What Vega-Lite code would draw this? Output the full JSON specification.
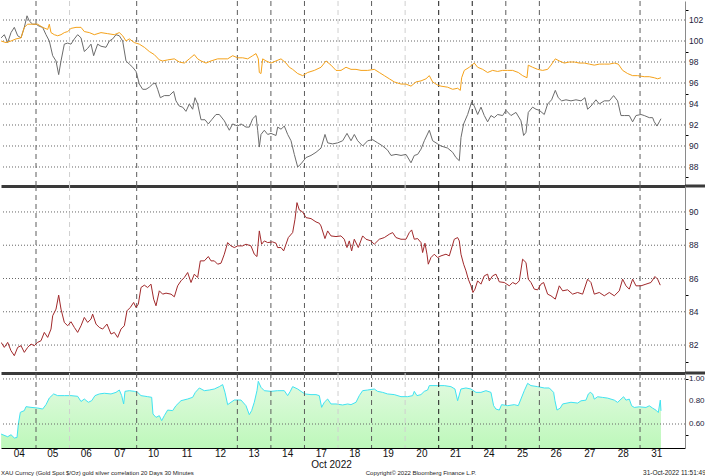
{
  "$schema": "https://vega.github.io/schema/vega-lite/v6.json",
  "background": "white",
  "padding": 0,
  "spacing": 0,
  "bounds": "flush",
  "config": {
    "view": {"stroke": null},
    "font": "Liberation Sans Narrow, Liberation Sans, sans-serif",
    "concat": {"spacing": 0},
    "axisY": {
      "orient": "right", "title": null, "grid": false, "labels": false,
      "tickColor": "#000000", "tickSize": 3,
      "domainColor": "#8a8a8a"
    },
    "text": {"font": "Liberation Sans Narrow, Liberation Sans, sans-serif"}
  },
  "resolve": {"scale": {"x": "independent", "y": "independent"}},
  "datasets": {
    "days": [
      {"t": 1, "shade": "normal"}, {"t": 2, "shade": "faint"}, {"t": 4, "shade": "normal"},
      {"t": 7, "shade": "normal"}, {"t": 8, "shade": "normal"}, {"t": 9, "shade": "normal"},
      {"t": 10, "shade": "faint"}, {"t": 11, "shade": "normal"}, {"t": 12, "shade": "faint"},
      {"t": 13, "shade": "strong"}, {"t": 14, "shade": "strong"}, {"t": 15, "shade": "normal"},
      {"t": 16, "shade": "normal"}, {"t": 19, "shade": "normal"}
    ],
    "daylabels": [
      {"t": 0.5, "lab": "04"}, {"t": 1.5, "lab": "05"}, {"t": 2.5, "lab": "06"}, {"t": 3.5, "lab": "07"},
      {"t": 4.5, "lab": "10"}, {"t": 5.5, "lab": "11"}, {"t": 6.5, "lab": "12"}, {"t": 7.5, "lab": "13"},
      {"t": 8.5, "lab": "14"}, {"t": 9.5, "lab": "17"}, {"t": 10.5, "lab": "18"}, {"t": 11.5, "lab": "19"},
      {"t": 12.5, "lab": "20"}, {"t": 13.5, "lab": "21"}, {"t": 14.5, "lab": "24"}, {"t": 15.5, "lab": "25"},
      {"t": 16.5, "lab": "26"}, {"t": 17.5, "lab": "27"}, {"t": 18.5, "lab": "28"}, {"t": 19.5, "lab": "31"}
    ],
    "grid1": [{"v": 88}, {"v": 90}, {"v": 92}, {"v": 94}, {"v": 96}, {"v": 98}, {"v": 100}, {"v": 102}],
    "grid2": [{"v": 82}, {"v": 84}, {"v": 86}, {"v": 88}, {"v": 90}],
    "grid3": [{"v": 0.6}, {"v": 1.0}],
    "corrticks": [{"v": 0.6}, {"v": 0.8}, {"v": 1.0}],
    "silver": [
      {"t":-0.04,"v":100.3},{"t":0.056,"v":100.6},{"t":0.156,"v":99.85},{"t":0.255,"v":100.8},{"t":0.354,"v":101.3},{"t":0.454,"v":100.5},{"t":0.553,"v":100.3},{"t":0.652,"v":101.3},{"t":0.732,"v":102.4},{"t":0.801,"v":101.9},{"t":0.901,"v":101.6},{"t":1.0,"v":101.6},{"t":1.099,"v":101.4},{"t":1.198,"v":101.3},{"t":1.298,"v":100.6},{"t":1.397,"v":100.0},{"t":1.497,"v":98.6},{"t":1.596,"v":98.1},{"t":1.676,"v":96.8},{"t":1.745,"v":98.1},{"t":1.844,"v":99.7},{"t":1.944,"v":99.8},{"t":2.043,"v":99.7},{"t":2.142,"v":100.2},{"t":2.241,"v":100.6},{"t":2.341,"v":100.3},{"t":2.44,"v":99.0},{"t":2.539,"v":99.3},{"t":2.639,"v":99.7},{"t":2.718,"v":98.6},{"t":2.837,"v":99.7},{"t":2.937,"v":99.5},{"t":3.086,"v":99.4},{"t":3.185,"v":100.0},{"t":3.285,"v":100.2},{"t":3.384,"v":100.6},{"t":3.483,"v":100.5},{"t":3.583,"v":100.0},{"t":3.682,"v":98.1},{"t":3.781,"v":97.8},{"t":3.881,"v":97.5},{"t":3.98,"v":97.1},{"t":4.079,"v":95.9},{"t":4.179,"v":95.4},{"t":4.278,"v":95.4},{"t":4.377,"v":95.6},{"t":4.477,"v":95.9},{"t":4.556,"v":96.0},{"t":4.625,"v":95.4},{"t":4.705,"v":94.6},{"t":4.824,"v":94.8},{"t":4.973,"v":94.8},{"t":5.102,"v":95.2},{"t":5.171,"v":94.3},{"t":5.271,"v":93.8},{"t":5.37,"v":93.7},{"t":5.469,"v":93.3},{"t":5.569,"v":94.0},{"t":5.668,"v":93.5},{"t":5.738,"v":94.6},{"t":5.817,"v":94.0},{"t":5.917,"v":92.5},{"t":6.036,"v":92.5},{"t":6.135,"v":92.1},{"t":6.235,"v":92.5},{"t":6.364,"v":93.0},{"t":6.463,"v":93.0},{"t":6.612,"v":92.4},{"t":6.761,"v":91.5},{"t":6.861,"v":92.1},{"t":7.01,"v":91.9},{"t":7.109,"v":92.1},{"t":7.258,"v":91.8},{"t":7.357,"v":91.8},{"t":7.457,"v":92.6},{"t":7.556,"v":92.9},{"t":7.606,"v":91.5},{"t":7.655,"v":89.9},{"t":7.705,"v":91.1},{"t":7.804,"v":91.5},{"t":7.904,"v":91.1},{"t":8.003,"v":91.2},{"t":8.152,"v":91.0},{"t":8.202,"v":91.8},{"t":8.301,"v":91.6},{"t":8.4,"v":91.9},{"t":8.5,"v":91.1},{"t":8.599,"v":90.5},{"t":8.698,"v":89.2},{"t":8.798,"v":88.0},{"t":8.897,"v":88.3},{"t":9.046,"v":88.9},{"t":9.195,"v":89.1},{"t":9.344,"v":89.4},{"t":9.493,"v":89.8},{"t":9.612,"v":91.1},{"t":9.692,"v":90.3},{"t":9.841,"v":90.2},{"t":9.99,"v":90.3},{"t":10.139,"v":90.5},{"t":10.268,"v":91.2},{"t":10.387,"v":90.5},{"t":10.486,"v":91.1},{"t":10.586,"v":90.5},{"t":10.735,"v":90.0},{"t":10.884,"v":90.5},{"t":11.033,"v":90.6},{"t":11.182,"v":90.3},{"t":11.331,"v":90.0},{"t":11.479,"v":89.6},{"t":11.579,"v":89.1},{"t":11.728,"v":89.2},{"t":11.877,"v":89.1},{"t":12.026,"v":89.2},{"t":12.175,"v":88.4},{"t":12.274,"v":89.1},{"t":12.373,"v":89.2},{"t":12.473,"v":89.7},{"t":12.572,"v":90.5},{"t":12.721,"v":91.5},{"t":12.82,"v":90.5},{"t":12.969,"v":90.2},{"t":13.068,"v":90.0},{"t":13.267,"v":89.8},{"t":13.416,"v":89.4},{"t":13.515,"v":88.9},{"t":13.614,"v":88.6},{"t":13.664,"v":90.8},{"t":13.743,"v":92.1},{"t":13.863,"v":93.0},{"t":13.982,"v":94.2},{"t":14.061,"v":93.8},{"t":14.161,"v":93.0},{"t":14.26,"v":93.7},{"t":14.359,"v":92.9},{"t":14.458,"v":92.3},{"t":14.558,"v":92.9},{"t":14.657,"v":92.7},{"t":14.756,"v":93.0},{"t":14.905,"v":92.9},{"t":15.005,"v":93.4},{"t":15.154,"v":92.9},{"t":15.303,"v":93.2},{"t":15.452,"v":92.4},{"t":15.531,"v":91.0},{"t":15.601,"v":91.3},{"t":15.67,"v":93.2},{"t":15.799,"v":93.7},{"t":15.899,"v":93.5},{"t":15.998,"v":93.4},{"t":16.147,"v":93.0},{"t":16.246,"v":94.0},{"t":16.365,"v":94.4},{"t":16.475,"v":95.3},{"t":16.564,"v":94.6},{"t":16.664,"v":94.3},{"t":16.793,"v":94.4},{"t":16.942,"v":94.3},{"t":17.091,"v":94.4},{"t":17.24,"v":94.3},{"t":17.359,"v":94.6},{"t":17.438,"v":93.5},{"t":17.538,"v":93.8},{"t":17.687,"v":94.4},{"t":17.786,"v":94.0},{"t":17.935,"v":94.3},{"t":18.084,"v":94.3},{"t":18.213,"v":94.8},{"t":18.332,"v":94.3},{"t":18.432,"v":92.9},{"t":18.531,"v":92.9},{"t":18.68,"v":92.9},{"t":18.779,"v":92.3},{"t":18.879,"v":92.9},{"t":19.028,"v":93.0},{"t":19.127,"v":92.9},{"t":19.276,"v":92.7},{"t":19.375,"v":92.7},{"t":19.425,"v":92.3},{"t":19.505,"v":91.9},{"t":19.574,"v":92.3},{"t":19.624,"v":92.6}
    ],
    "gold": [
      {"t":-0.04,"v":100.0},{"t":0.106,"v":99.85},{"t":0.255,"v":100.0},{"t":0.404,"v":100.2},{"t":0.553,"v":100.3},{"t":0.652,"v":101.3},{"t":0.752,"v":101.6},{"t":0.901,"v":101.6},{"t":1.049,"v":101.6},{"t":1.198,"v":101.3},{"t":1.348,"v":101.1},{"t":1.397,"v":101.6},{"t":1.447,"v":100.8},{"t":1.546,"v":100.6},{"t":1.646,"v":100.5},{"t":1.745,"v":100.6},{"t":1.844,"v":100.8},{"t":1.944,"v":100.9},{"t":2.043,"v":101.2},{"t":2.192,"v":101.3},{"t":2.341,"v":101.3},{"t":2.44,"v":100.9},{"t":2.589,"v":100.8},{"t":2.738,"v":100.6},{"t":2.937,"v":100.8},{"t":3.135,"v":100.7},{"t":3.334,"v":100.6},{"t":3.483,"v":100.8},{"t":3.583,"v":100.5},{"t":3.682,"v":100.0},{"t":3.781,"v":100.2},{"t":3.93,"v":99.85},{"t":4.079,"v":99.7},{"t":4.228,"v":99.4},{"t":4.377,"v":99.0},{"t":4.526,"v":98.7},{"t":4.675,"v":98.2},{"t":4.774,"v":98.1},{"t":4.923,"v":98.2},{"t":5.122,"v":98.3},{"t":5.271,"v":98.0},{"t":5.42,"v":97.9},{"t":5.569,"v":98.3},{"t":5.718,"v":98.7},{"t":5.817,"v":98.3},{"t":5.917,"v":98.1},{"t":6.066,"v":97.9},{"t":6.215,"v":98.1},{"t":6.413,"v":98.3},{"t":6.513,"v":98.3},{"t":6.712,"v":98.3},{"t":6.861,"v":98.6},{"t":7.01,"v":98.4},{"t":7.159,"v":98.4},{"t":7.308,"v":98.3},{"t":7.457,"v":98.6},{"t":7.556,"v":98.8},{"t":7.625,"v":98.3},{"t":7.655,"v":97.0},{"t":7.705,"v":96.9},{"t":7.755,"v":98.3},{"t":7.854,"v":98.1},{"t":8.003,"v":97.9},{"t":8.152,"v":98.1},{"t":8.301,"v":98.3},{"t":8.45,"v":97.9},{"t":8.549,"v":97.5},{"t":8.648,"v":97.3},{"t":8.798,"v":96.9},{"t":8.947,"v":96.7},{"t":9.096,"v":97.0},{"t":9.294,"v":97.2},{"t":9.493,"v":97.5},{"t":9.642,"v":98.1},{"t":9.791,"v":97.7},{"t":9.94,"v":97.2},{"t":10.089,"v":97.2},{"t":10.238,"v":97.5},{"t":10.387,"v":97.3},{"t":10.536,"v":97.3},{"t":10.685,"v":97.2},{"t":10.884,"v":97.2},{"t":11.082,"v":97.3},{"t":11.231,"v":97.0},{"t":11.38,"v":96.7},{"t":11.529,"v":96.4},{"t":11.678,"v":96.1},{"t":11.877,"v":95.9},{"t":12.026,"v":95.9},{"t":12.175,"v":95.7},{"t":12.324,"v":96.1},{"t":12.473,"v":96.2},{"t":12.621,"v":96.4},{"t":12.721,"v":96.7},{"t":12.82,"v":96.1},{"t":12.969,"v":95.8},{"t":13.068,"v":95.7},{"t":13.267,"v":95.6},{"t":13.416,"v":95.4},{"t":13.565,"v":95.5},{"t":13.644,"v":95.3},{"t":13.684,"v":96.5},{"t":13.763,"v":97.2},{"t":13.912,"v":97.5},{"t":14.061,"v":97.9},{"t":14.161,"v":97.5},{"t":14.31,"v":97.3},{"t":14.458,"v":97.0},{"t":14.607,"v":97.2},{"t":14.756,"v":97.1},{"t":14.905,"v":97.2},{"t":15.055,"v":97.2},{"t":15.204,"v":97.2},{"t":15.373,"v":97.0},{"t":15.502,"v":96.7},{"t":15.631,"v":96.5},{"t":15.67,"v":97.7},{"t":15.799,"v":97.5},{"t":15.948,"v":97.3},{"t":16.097,"v":97.2},{"t":16.246,"v":97.3},{"t":16.346,"v":97.7},{"t":16.475,"v":98.3},{"t":16.594,"v":98.1},{"t":16.743,"v":97.9},{"t":16.892,"v":98.0},{"t":17.041,"v":98.0},{"t":17.19,"v":97.9},{"t":17.339,"v":97.9},{"t":17.488,"v":97.8},{"t":17.637,"v":97.7},{"t":17.786,"v":97.8},{"t":17.935,"v":97.8},{"t":18.084,"v":97.8},{"t":18.233,"v":97.9},{"t":18.352,"v":97.8},{"t":18.482,"v":97.2},{"t":18.63,"v":96.9},{"t":18.779,"v":96.7},{"t":18.928,"v":96.7},{"t":19.127,"v":96.6},{"t":19.276,"v":96.6},{"t":19.425,"v":96.5},{"t":19.525,"v":96.4},{"t":19.624,"v":96.5}
    ],
    "ratio": [
      {"t":-0.04,"v":82.16},{"t":0.056,"v":81.86},{"t":0.156,"v":82.16},{"t":0.255,"v":81.66},{"t":0.354,"v":81.36},{"t":0.454,"v":81.86},{"t":0.553,"v":81.96},{"t":0.652,"v":81.56},{"t":0.752,"v":81.86},{"t":0.851,"v":82.06},{"t":0.95,"v":81.96},{"t":1.049,"v":82.16},{"t":1.149,"v":82.26},{"t":1.248,"v":82.76},{"t":1.348,"v":82.46},{"t":1.447,"v":82.96},{"t":1.497,"v":83.76},{"t":1.596,"v":84.16},{"t":1.676,"v":85.0},{"t":1.745,"v":84.16},{"t":1.844,"v":83.36},{"t":1.944,"v":83.16},{"t":2.043,"v":83.4},{"t":2.142,"v":83.06},{"t":2.241,"v":82.76},{"t":2.341,"v":83.16},{"t":2.44,"v":83.66},{"t":2.539,"v":83.36},{"t":2.639,"v":83.56},{"t":2.688,"v":83.86},{"t":2.788,"v":83.26},{"t":2.887,"v":83.06},{"t":2.986,"v":82.96},{"t":3.115,"v":83.26},{"t":3.235,"v":82.66},{"t":3.334,"v":82.76},{"t":3.433,"v":82.46},{"t":3.533,"v":82.96},{"t":3.632,"v":83.16},{"t":3.712,"v":84.06},{"t":3.811,"v":84.26},{"t":3.91,"v":84.56},{"t":3.98,"v":84.26},{"t":4.049,"v":84.46},{"t":4.129,"v":85.46},{"t":4.228,"v":85.6},{"t":4.327,"v":85.46},{"t":4.427,"v":85.66},{"t":4.506,"v":84.76},{"t":4.576,"v":84.36},{"t":4.675,"v":85.26},{"t":4.774,"v":85.06},{"t":4.874,"v":85.12},{"t":5.023,"v":85.06},{"t":5.122,"v":84.9},{"t":5.221,"v":85.56},{"t":5.321,"v":85.86},{"t":5.42,"v":86.06},{"t":5.519,"v":86.36},{"t":5.619,"v":85.76},{"t":5.718,"v":86.26},{"t":5.817,"v":86.06},{"t":5.897,"v":87.06},{"t":6.016,"v":87.06},{"t":6.135,"v":87.32},{"t":6.215,"v":87.06},{"t":6.314,"v":87.06},{"t":6.413,"v":86.86},{"t":6.513,"v":86.92},{"t":6.612,"v":87.46},{"t":6.711,"v":88.16},{"t":6.81,"v":87.96},{"t":6.91,"v":87.86},{"t":7.009,"v":87.96},{"t":7.158,"v":87.96},{"t":7.257,"v":88.06},{"t":7.406,"v":87.96},{"t":7.506,"v":87.46},{"t":7.585,"v":87.32},{"t":7.655,"v":88.86},{"t":7.724,"v":88.06},{"t":7.804,"v":88.26},{"t":7.903,"v":88.16},{"t":8.052,"v":88.2},{"t":8.152,"v":88.12},{"t":8.201,"v":87.86},{"t":8.301,"v":87.86},{"t":8.38,"v":87.66},{"t":8.45,"v":88.06},{"t":8.519,"v":88.46},{"t":8.648,"v":88.76},{"t":8.718,"v":89.56},{"t":8.777,"v":90.56},{"t":8.847,"v":90.12},{"t":8.946,"v":90.0},{"t":9.046,"v":89.66},{"t":9.195,"v":89.6},{"t":9.344,"v":89.4},{"t":9.443,"v":89.32},{"t":9.492,"v":89.16},{"t":9.611,"v":88.4},{"t":9.691,"v":88.86},{"t":9.79,"v":88.56},{"t":9.939,"v":88.52},{"t":10.088,"v":88.56},{"t":10.187,"v":88.36},{"t":10.267,"v":87.86},{"t":10.336,"v":88.26},{"t":10.406,"v":87.66},{"t":10.485,"v":88.36},{"t":10.604,"v":87.86},{"t":10.734,"v":88.56},{"t":10.833,"v":88.36},{"t":10.982,"v":88.26},{"t":11.081,"v":88.06},{"t":11.23,"v":88.36},{"t":11.379,"v":88.46},{"t":11.528,"v":88.66},{"t":11.627,"v":88.76},{"t":11.727,"v":88.46},{"t":11.876,"v":88.36},{"t":12.025,"v":88.36},{"t":12.124,"v":88.76},{"t":12.194,"v":88.92},{"t":12.273,"v":88.36},{"t":12.372,"v":88.4},{"t":12.472,"v":88.16},{"t":12.521,"v":87.56},{"t":12.591,"v":88.12},{"t":12.651,"v":87.46},{"t":12.69,"v":86.86},{"t":12.77,"v":87.26},{"t":12.869,"v":87.46},{"t":12.968,"v":87.26},{"t":13.068,"v":87.36},{"t":13.217,"v":87.46},{"t":13.316,"v":87.36},{"t":13.465,"v":88.36},{"t":13.564,"v":88.46},{"t":13.614,"v":88.26},{"t":13.664,"v":87.46},{"t":13.743,"v":86.86},{"t":13.813,"v":86.46},{"t":13.882,"v":85.96},{"t":13.962,"v":85.56},{"t":14.021,"v":85.16},{"t":14.081,"v":85.36},{"t":14.16,"v":85.86},{"t":14.259,"v":85.66},{"t":14.359,"v":86.16},{"t":14.458,"v":86.26},{"t":14.508,"v":85.86},{"t":14.607,"v":86.16},{"t":14.707,"v":86.26},{"t":14.806,"v":85.8},{"t":14.955,"v":85.76},{"t":15.104,"v":85.56},{"t":15.203,"v":85.76},{"t":15.303,"v":85.66},{"t":15.402,"v":85.86},{"t":15.501,"v":87.16},{"t":15.601,"v":86.96},{"t":15.67,"v":85.96},{"t":15.75,"v":85.76},{"t":15.849,"v":85.36},{"t":15.948,"v":85.32},{"t":16.047,"v":85.66},{"t":16.127,"v":85.76},{"t":16.246,"v":85.06},{"t":16.345,"v":84.96},{"t":16.475,"v":84.76},{"t":16.594,"v":85.56},{"t":16.693,"v":85.26},{"t":16.842,"v":85.32},{"t":16.991,"v":85.06},{"t":17.14,"v":85.16},{"t":17.289,"v":85.06},{"t":17.438,"v":85.96},{"t":17.537,"v":85.76},{"t":17.637,"v":85.06},{"t":17.786,"v":85.16},{"t":17.935,"v":84.96},{"t":18.084,"v":85.16},{"t":18.233,"v":84.96},{"t":18.382,"v":85.26},{"t":18.481,"v":85.96},{"t":18.581,"v":85.56},{"t":18.68,"v":85.36},{"t":18.779,"v":85.96},{"t":18.879,"v":85.56},{"t":19.028,"v":85.56},{"t":19.176,"v":85.66},{"t":19.325,"v":85.76},{"t":19.445,"v":86.12},{"t":19.524,"v":85.96},{"t":19.603,"v":85.6}
    ],
    "corr": [
      {"t":-0.04,"v":0.511},{"t":0.156,"v":0.487},{"t":0.255,"v":0.505},{"t":0.354,"v":0.476},{"t":0.434,"v":0.48},{"t":0.474,"v":0.6},{"t":0.533,"v":0.704},{"t":0.652,"v":0.719},{"t":0.702,"v":0.754},{"t":0.851,"v":0.748},{"t":1.049,"v":0.742},{"t":1.198,"v":0.733},{"t":1.298,"v":0.772},{"t":1.397,"v":0.831},{"t":1.526,"v":0.867},{"t":1.646,"v":0.852},{"t":1.844,"v":0.852},{"t":2.043,"v":0.852},{"t":2.241,"v":0.846},{"t":2.341,"v":0.8},{"t":2.44,"v":0.822},{"t":2.559,"v":0.793},{"t":2.659,"v":0.807},{"t":2.758,"v":0.852},{"t":2.887,"v":0.867},{"t":3.036,"v":0.873},{"t":3.235,"v":0.867},{"t":3.384,"v":0.881},{"t":3.483,"v":0.902},{"t":3.553,"v":0.852},{"t":3.612,"v":0.778},{"t":3.652,"v":0.89},{"t":3.781,"v":0.896},{"t":3.93,"v":0.89},{"t":4.029,"v":0.881},{"t":4.129,"v":0.852},{"t":4.327,"v":0.843},{"t":4.447,"v":0.837},{"t":4.486,"v":0.689},{"t":4.576,"v":0.659},{"t":4.675,"v":0.674},{"t":4.745,"v":0.63},{"t":4.824,"v":0.674},{"t":4.923,"v":0.724},{"t":5.072,"v":0.719},{"t":5.171,"v":0.763},{"t":5.321,"v":0.807},{"t":5.519,"v":0.822},{"t":5.668,"v":0.837},{"t":5.748,"v":0.881},{"t":5.867,"v":0.92},{"t":6.016,"v":0.896},{"t":6.165,"v":0.902},{"t":6.314,"v":0.911},{"t":6.463,"v":0.932},{"t":6.562,"v":0.95},{"t":6.632,"v":0.881},{"t":6.711,"v":0.772},{"t":6.81,"v":0.793},{"t":6.909,"v":0.813},{"t":7.108,"v":0.813},{"t":7.257,"v":0.763},{"t":7.356,"v":0.683},{"t":7.426,"v":0.719},{"t":7.505,"v":0.793},{"t":7.585,"v":0.896},{"t":7.624,"v":0.979},{"t":7.704,"v":0.926},{"t":7.803,"v":0.896},{"t":8.002,"v":0.89},{"t":8.2,"v":0.896},{"t":8.399,"v":0.896},{"t":8.499,"v":0.852},{"t":8.578,"v":0.89},{"t":8.648,"v":0.932},{"t":8.797,"v":0.911},{"t":8.896,"v":0.89},{"t":9.015,"v":0.867},{"t":9.194,"v":0.861},{"t":9.343,"v":0.861},{"t":9.442,"v":0.852},{"t":9.512,"v":0.748},{"t":9.591,"v":0.793},{"t":9.69,"v":0.822},{"t":9.79,"v":0.778},{"t":9.939,"v":0.778},{"t":10.138,"v":0.769},{"t":10.287,"v":0.778},{"t":10.386,"v":0.772},{"t":10.535,"v":0.793},{"t":10.634,"v":0.852},{"t":10.733,"v":0.896},{"t":10.882,"v":0.902},{"t":11.081,"v":0.911},{"t":11.18,"v":0.89},{"t":11.329,"v":0.881},{"t":11.478,"v":0.867},{"t":11.677,"v":0.861},{"t":11.876,"v":0.843},{"t":12.075,"v":0.843},{"t":12.224,"v":0.852},{"t":12.273,"v":0.89},{"t":12.352,"v":0.852},{"t":12.471,"v":0.861},{"t":12.571,"v":0.89},{"t":12.67,"v":0.902},{"t":12.72,"v":0.941},{"t":12.968,"v":0.941},{"t":13.167,"v":0.941},{"t":13.365,"v":0.932},{"t":13.484,"v":0.911},{"t":13.564,"v":0.807},{"t":13.663,"v":0.911},{"t":13.812,"v":0.92},{"t":13.961,"v":0.911},{"t":14.11,"v":0.881},{"t":14.259,"v":0.881},{"t":14.408,"v":0.896},{"t":14.557,"v":0.881},{"t":14.637,"v":0.763},{"t":14.706,"v":0.733},{"t":14.806,"v":0.724},{"t":14.875,"v":0.772},{"t":15.054,"v":0.763},{"t":15.253,"v":0.772},{"t":15.372,"v":0.763},{"t":15.451,"v":0.822},{"t":15.551,"v":0.896},{"t":15.65,"v":0.961},{"t":15.749,"v":0.941},{"t":15.948,"v":0.932},{"t":16.147,"v":0.92},{"t":16.296,"v":0.92},{"t":16.425,"v":0.881},{"t":16.465,"v":0.807},{"t":16.525,"v":0.724},{"t":16.624,"v":0.742},{"t":16.694,"v":0.778},{"t":16.793,"v":0.784},{"t":16.942,"v":0.793},{"t":17.141,"v":0.786},{"t":17.24,"v":0.806},{"t":17.389,"v":0.812},{"t":17.458,"v":0.866},{"t":17.518,"v":0.881},{"t":17.588,"v":0.866},{"t":17.637,"v":0.821},{"t":17.737,"v":0.842},{"t":17.886,"v":0.836},{"t":18.035,"v":0.83},{"t":18.233,"v":0.812},{"t":18.333,"v":0.792},{"t":18.432,"v":0.821},{"t":18.511,"v":0.842},{"t":18.581,"v":0.812},{"t":18.68,"v":0.821},{"t":18.75,"v":0.762},{"t":18.829,"v":0.747},{"t":18.978,"v":0.753},{"t":19.177,"v":0.747},{"t":19.276,"v":0.762},{"t":19.375,"v":0.741},{"t":19.475,"v":0.723},{"t":19.544,"v":0.702},{"t":19.604,"v":0.812},{"t":19.624,"v":0.717}
    ],
    "footer": [
      {"part": "left", "label": "XAU Curncy (Gold Spot   $/Oz) gold silver correlation 20 Days 30 Minutes"},
      {"part": "center", "label": "Copyright© 2022 Bloomberg Finance L.P."},
      {"part": "right", "label": "31-Oct-2022 11:51:49"}
    ]
  },
  "vconcat": [
    {
      "width": 684,
      "height": 185,
      "layer": [
        {
          "data": {"name": "grid1"},
          "mark": {"type": "rule", "strokeDash": [1, 2], "strokeWidth": 1, "color": "#666666"},
          "encoding": {
            "y": {"field": "v", "type": "quantitative", "scale": {"domain": [86.19, 103.81], "nice": false, "zero": false},
              "axis": {"values": [87, 88, 89, 90, 91, 92, 93, 94, 95, 96, 97, 98, 99, 100, 101, 102, 103]}}
          }
        },
        {
          "data": {"name": "days"},
          "mark": {"type": "rule", "strokeDash": [5, 4], "strokeWidth": 1},
          "encoding": {
            "x": {"field": "t", "type": "quantitative", "scale": {"domain": [-0.043, 20.34], "nice": false},
              "axis": {"labels": false, "ticks": false, "grid": false, "title": null, "domainColor": "#3a3a3a", "domainWidth": 3}},
            "color": {"field": "shade", "type": "nominal", "scale": {"domain": ["strong", "normal", "faint"], "range": ["#1a1a1a", "#5c5c5c", "#cfcfcf"]}, "legend": null}
          }
        },
        {
          "data": {"name": "silver"},
          "mark": {"type": "line", "color": "#6c6c6c", "strokeWidth": 1, "clip": true},
          "encoding": {
            "x": {"field": "t", "type": "quantitative",
              "axis": {"labels": false, "ticks": false, "grid": false, "title": null, "domainColor": "#3a3a3a", "domainWidth": 3}},
            "y": {"field": "v", "type": "quantitative"}
          }
        },
        {
          "data": {"name": "gold"},
          "mark": {"type": "line", "color": "#f5a21a", "strokeWidth": 1, "clip": true},
          "encoding": {
            "x": {"field": "t", "type": "quantitative",
              "axis": {"labels": false, "ticks": false, "grid": false, "title": null, "domainColor": "#3a3a3a", "domainWidth": 3}},
            "y": {"field": "v", "type": "quantitative"}
          }
        },
        {
          "data": {"name": "grid1"},
          "mark": {"type": "text", "align": "left", "baseline": "middle", "dx": 4, "fontSize": 8.5, "color": "#1c1c3c"},
          "encoding": {
            "x": {"datum": 20.34, "type": "quantitative"},
            "y": {"field": "v", "type": "quantitative"},
            "text": {"field": "v", "type": "quantitative", "format": "d"}
          }
        },
        {
          "data": {"values": [{}]},
          "mark": {"type": "rule", "color": "#3a3a3a", "strokeWidth": 3},
          "encoding": {
            "x": {"datum": 20.34, "type": "quantitative"},
            "x2": {"datum": 20.98},
            "y": {"datum": 86.19, "type": "quantitative"}
          }
        }
      ]
    },
    {
      "width": 684,
      "height": 187,
      "layer": [
        {
          "data": {"name": "grid2"},
          "mark": {"type": "rule", "strokeDash": [1, 2], "strokeWidth": 1, "color": "#666666"},
          "encoding": {
            "y": {"field": "v", "type": "quantitative", "scale": {"domain": [80.32, 91.56], "nice": false, "zero": false},
              "axis": {"values": [81, 82, 83, 84, 85, 86, 87, 88, 89, 90, 91]}}
          }
        },
        {
          "data": {"name": "days"},
          "mark": {"type": "rule", "strokeDash": [5, 4], "strokeWidth": 1},
          "encoding": {
            "x": {"field": "t", "type": "quantitative", "scale": {"domain": [-0.043, 20.34], "nice": false},
              "axis": {"labels": false, "ticks": false, "grid": false, "title": null, "domainColor": "#3a3a3a", "domainWidth": 3}},
            "color": {"field": "shade", "type": "nominal", "scale": {"domain": ["strong", "normal", "faint"], "range": ["#1a1a1a", "#5c5c5c", "#cfcfcf"]}, "legend": null}
          }
        },
        {
          "data": {"name": "ratio"},
          "mark": {"type": "line", "color": "#a1292b", "strokeWidth": 1, "clip": true},
          "encoding": {
            "x": {"field": "t", "type": "quantitative",
              "axis": {"labels": false, "ticks": false, "grid": false, "title": null, "domainColor": "#3a3a3a", "domainWidth": 3}},
            "y": {"field": "v", "type": "quantitative"}
          }
        },
        {
          "data": {"name": "grid2"},
          "mark": {"type": "text", "align": "left", "baseline": "middle", "dx": 4, "fontSize": 8.5, "color": "#1c1c3c"},
          "encoding": {
            "x": {"datum": 20.34, "type": "quantitative"},
            "y": {"field": "v", "type": "quantitative"},
            "text": {"field": "v", "type": "quantitative", "format": "d"}
          }
        },
        {
          "data": {"values": [{}]},
          "mark": {"type": "rule", "color": "#3a3a3a", "strokeWidth": 3},
          "encoding": {
            "x": {"datum": 20.34, "type": "quantitative"},
            "x2": {"datum": 20.98},
            "y": {"datum": 80.32, "type": "quantitative"}
          }
        }
      ]
    },
    {
      "width": 684,
      "height": 75,
      "layer": [
        {
          "data": {"name": "corr"},
          "mark": {
            "type": "area",
            "clip": true,
            "color": {"gradient": "linear", "x1": 0, "y1": 0, "x2": 0, "y2": 1, "stops": [{"offset": 0, "color": "#d3f8d1"}, {"offset": 1, "color": "#a1f59d"}]},
            "line": {"color": "#3fe3f2", "strokeWidth": 1}
          },
          "encoding": {
            "x": {
              "field": "t", "type": "quantitative",
              "scale": {"domain": [-0.043, 20.34], "nice": false},
              "axis": {"labels": false, "ticks": false, "grid": false, "domainColor": "#000000", "domainWidth": 1,
                "title": "Oct 2022", "titleFontSize": 10, "titleFontWeight": "normal", "titleColor": "#111111", "titlePadding": 11, "titleX": 330}
            },
            "y": {
              "field": "v", "type": "quantitative",
              "scale": {"domain": [0.387, 1.053], "nice": false, "zero": false},
              "axis": {"values": [0.5, 0.6, 0.7, 0.8, 0.9, 1.0]}
            },
            "y2": {"datum": 0.387}
          }
        },
        {
          "data": {"name": "grid3"},
          "mark": {"type": "rule", "strokeDash": [1, 2], "strokeWidth": 1, "color": "#666666"},
          "encoding": {
            "y": {"field": "v", "type": "quantitative"}
          }
        },
        {
          "data": {"name": "days"},
          "mark": {"type": "rule", "strokeDash": [5, 4], "strokeWidth": 1},
          "encoding": {
            "x": {
              "field": "t", "type": "quantitative",
              "axis": {"labels": false, "ticks": false, "grid": false, "domainColor": "#000000", "domainWidth": 1,
                "title": "Oct 2022", "titleFontSize": 10, "titleFontWeight": "normal", "titleColor": "#111111", "titlePadding": 11, "titleX": 330}
            },
            "color": {"field": "shade", "type": "nominal", "scale": {"domain": ["strong", "normal", "faint"], "range": ["#1a1a1a", "#5c5c5c", "#cfcfcf"]}, "legend": null}
          }
        },
        {
          "data": {"name": "corrticks"},
          "mark": {"type": "text", "align": "left", "baseline": "middle", "dx": 4, "fontSize": 8, "color": "#1c1c3c"},
          "encoding": {
            "x": {"datum": 20.34, "type": "quantitative"},
            "y": {"field": "v", "type": "quantitative"},
            "text": {"field": "v", "type": "quantitative", "format": ".2f"}
          }
        },
        {
          "data": {"name": "daylabels"},
          "mark": {"type": "text", "align": "center", "baseline": "middle", "fontSize": 10, "color": "#111111"},
          "encoding": {
            "x": {"field": "t", "type": "quantitative"},
            "y": {"datum": 0.338, "type": "quantitative"},
            "text": {"field": "lab"}
          }
        },
        {
          "data": {"name": "footer"},
          "transform": [{"filter": "datum.part === 'left'"}],
          "mark": {"type": "text", "align": "left", "fontSize": 6, "color": "#222222"},
          "encoding": {
            "x": {"datum": -0.043, "type": "quantitative"},
            "y": {"datum": 0.165, "type": "quantitative"},
            "text": {"field": "label"}
          }
        },
        {
          "data": {"name": "footer"},
          "transform": [{"filter": "datum.part === 'center'"}],
          "mark": {"type": "text", "align": "center", "fontSize": 6, "color": "#222222"},
          "encoding": {
            "x": {"datum": 12.47, "type": "quantitative"},
            "y": {"datum": 0.165, "type": "quantitative"},
            "text": {"field": "label"}
          }
        },
        {
          "data": {"name": "footer"},
          "transform": [{"filter": "datum.part === 'right'"}],
          "mark": {"type": "text", "align": "right", "fontSize": 6.5, "color": "#222222"},
          "encoding": {
            "x": {"datum": 20.96, "type": "quantitative"},
            "y": {"datum": 0.165, "type": "quantitative"},
            "text": {"field": "label"}
          }
        }
      ]
    }
  ]
}
